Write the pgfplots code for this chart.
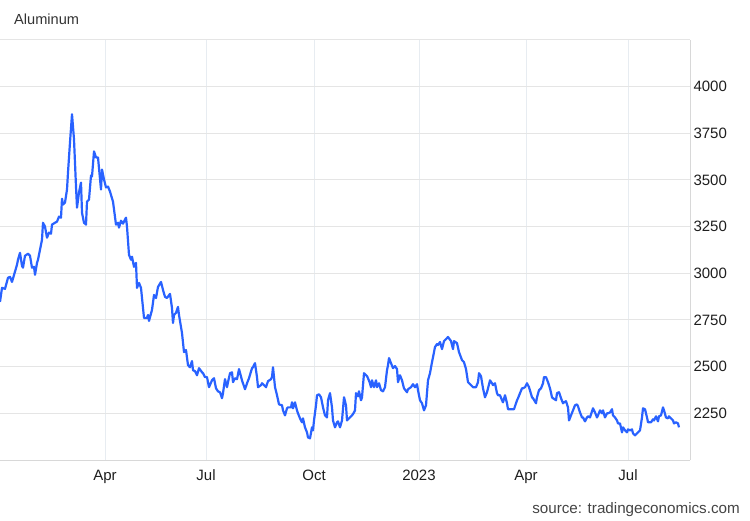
\documentclass[border=0pt]{standalone}
\usepackage{fontspec}
\setmainfont{Liberation Sans}
\usepackage{pgfplots}
\usepackage{pgfplotstable}
\pgfplotsset{compat=1.18}
\definecolor{lineblue}{RGB}{41,98,255}
\definecolor{gridh}{RGB}{229,229,229}
\definecolor{gridv}{RGB}{231,236,241}
\definecolor{axisgray}{RGB}{216,216,216}
\definecolor{ticktxt}{RGB}{30,30,30}
\definecolor{titletxt}{RGB}{51,51,51}
\definecolor{srcgray}{RGB}{68,68,68}
% x: time position (Jan 2022 = 0 ... Aug 2023 = 680), y: USD/t
\pgfplotstableread{
x y
0 2847
2 2922
5 2917
8 2976
10 2981
12 2954
17 3046
18 3073
20 3110
22 3040
23 3030
25 3094
28 3105
30 3094
32 3030
34 3035
35 2992
37 3056
38 3073
42 3180
43 3271
45 3250
47 3191
49 3218
51 3212
52 3261
55 3271
57 3277
59 3304
61 3298
62 3400
63 3368
65 3379
67 3449
68 3540
70 3702
72 3852
74 3718
76 3465
77 3352
79 3433
81 3486
82 3325
84 3271
86 3261
87 3384
89 3395
91 3524
92 3519
94 3653
96 3621
98 3621
101 3449
102 3556
104 3503
106 3460
108 3465
110 3438
113 3384
116 3261
118 3271
119 3245
121 3282
123 3266
124 3277
126 3298
127 3250
129 3099
131 3073
132 3089
134 3035
136 3056
137 2922
139 2949
141 2922
144 2761
147 2761
148 2777
149 2745
152 2804
154 2884
156 2868
158 2927
161 2954
163 2911
165 2874
167 2868
170 2890
172 2814
173 2734
174 2777
176 2788
178 2820
179 2777
182 2680
184 2578
186 2589
188 2508
190 2497
192 2530
193 2481
195 2476
197 2454
199 2492
202 2470
203 2465
205 2444
207 2444
209 2390
212 2427
214 2438
216 2384
218 2368
220 2363
222 2331
223 2358
225 2433
227 2390
228 2417
230 2465
232 2470
233 2417
235 2438
237 2433
239 2487
242 2427
243 2411
245 2379
247 2411
249 2438
252 2492
253 2497
255 2519
257 2444
258 2390
261 2401
262 2411
264 2401
266 2390
268 2422
271 2433
272 2444
273 2497
275 2390
277 2347
279 2298
282 2293
283 2266
285 2239
287 2277
288 2282
291 2282
292 2309
293 2277
295 2309
297 2266
298 2250
300 2223
302 2202
303 2223
305 2175
307 2148
308 2121
310 2116
312 2175
313 2159
314 2212
316 2293
317 2347
319 2352
321 2336
323 2282
325 2239
327 2228
328 2320
330 2358
332 2282
333 2212
335 2175
337 2202
338 2207
340 2175
342 2212
344 2336
346 2293
347 2212
349 2223
352 2239
354 2255
355 2266
356 2358
358 2341
359 2368
361 2320
362 2336
364 2465
367 2449
368 2438
370 2411
371 2390
372 2427
374 2390
376 2427
377 2390
379 2411
381 2374
383 2368
385 2390
387 2481
388 2508
389 2546
391 2519
393 2492
395 2503
397 2487
398 2417
400 2454
402 2427
404 2384
407 2363
408 2379
411 2390
413 2406
415 2390
417 2406
418 2374
420 2320
422 2304
424 2266
426 2293
428 2427
430 2465
432 2524
435 2605
437 2621
438 2616
440 2632
442 2594
444 2637
447 2653
448 2659
451 2637
453 2594
454 2637
457 2626
459 2578
462 2535
464 2524
466 2487
468 2417
471 2401
473 2390
476 2390
478 2417
479 2465
481 2449
483 2384
485 2336
487 2363
488 2384
490 2427
492 2411
493 2401
495 2411
497 2358
498 2347
500 2347
502 2320
503 2309
505 2347
507 2304
508 2272
510 2272
512 2272
514 2272
517 2320
518 2331
520 2358
522 2384
523 2384
525 2390
527 2411
529 2390
532 2336
533 2331
536 2304
537 2336
539 2374
541 2384
543 2411
544 2444
546 2444
548 2417
550 2384
552 2336
553 2331
556 2320
557 2358
559 2363
561 2331
563 2304
564 2309
566 2315
568 2282
569 2212
571 2239
573 2266
575 2293
577 2298
578 2288
580 2255
582 2228
583 2228
585 2207
587 2228
588 2234
590 2228
593 2277
595 2255
597 2228
598 2239
600 2266
602 2250
603 2266
605 2228
607 2250
608 2250
610 2255
612 2272
613 2239
615 2228
617 2212
618 2196
620 2196
622 2148
623 2175
625 2159
627 2148
628 2164
630 2159
632 2164
633 2143
635 2132
637 2143
638 2148
640 2159
642 2228
643 2277
645 2272
647 2228
648 2202
651 2202
653 2218
654 2212
656 2234
658 2207
659 2234
661 2239
663 2282
664 2266
666 2228
668 2223
669 2234
671 2223
673 2212
674 2196
676 2202
678 2196
679 2175
}\alum
\begin{document}
\begin{tikzpicture}
\useasboundingbox (0,0) rectangle (750pt,520pt);
\begin{axis}[
  at={(0pt,60pt)}, anchor=south west,
  scale only axis, width=690pt, height=420pt,
  xmin=0, xmax=690, ymin=2000, ymax=4250,
  axis x line*=bottom, axis y line*=right,
  axis line style={axisgray, line width=1pt, -},
  tick style={draw=none},
  xtick={105,206,314,419,526,628},
  xticklabels={Apr,Jul,Oct,2023,Apr,Jul},
  ytick={2250,2500,2750,3000,3250,3500,3750,4000,4250},
  yticklabels={2250,2500,2750,3000,3250,3500,3750,4000,{}},
  grid=major,
  x grid style={gridv, line width=1pt},
  y grid style={gridh, line width=1pt},
  ticklabel style={font=\fontsize{15}{18}\selectfont, text=ticktxt},
  xticklabel style={anchor=base, yshift=-20pt},
  yticklabel style={anchor=west},
  clip=true,
]
\addplot[lineblue, line width=2.2pt, line join=round, no markers] table[x=x,y=y] {\alum};
\end{axis}
\node[anchor=base west, inner sep=0pt, text=titletxt, font=\fontsize{14.6}{17}\selectfont] at (14pt,495pt) {Aluminum};
\node[anchor=base east, inner sep=0pt, text=srcgray, font=\fontsize{15.2}{18}\selectfont] at (740pt,7pt) {source: tradingeconomics.com};
\end{tikzpicture}
\end{document}
